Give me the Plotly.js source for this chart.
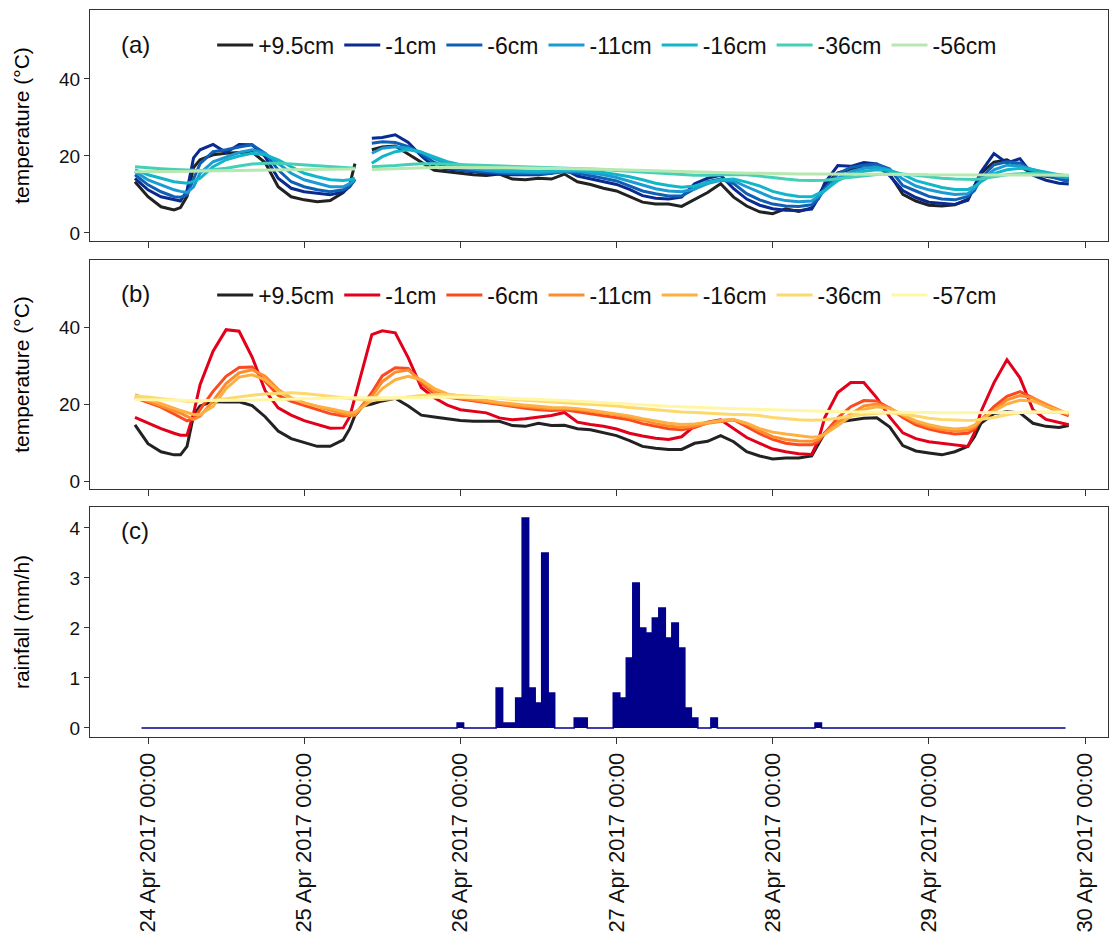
<!DOCTYPE html>
<html>
<head>
<meta charset="utf-8">
<script src="https://cdn.plot.ly/plotly-3.0.1.min.js"></script>
<style>html,body{margin:0;padding:0;background:#fff;}#chart{width:1110px;height:940px;}</style>
</head>
<body>
<div id="chart"></div>
<script>
// Hours since 24 Apr 2017 00:00 (sample times of the temperature records)
const hours = [
 -2,0,2,4,5,6,7,8,10,12,14,16,18,20,22,
 24,26,28,30,31,31.8,33,34.4,36,38,40,42,44,46,
 48,50,52,54,56,58,60,62,64,66,68,70,
 72,74,76,78,80,82,84,86,88,90,92,94,
 96,98,100,102,103,104,106,108,110,112,114,116,118,
 120,122,124,126,127,128,130,132,134,136,138,140,141.5
];

// Panel (a) temperatures (°C)
const a_p95 = [
 13.3,9.4,6.8,6.0,6.6,9.5,17.0,19.0,20.3,20.7,20.9,21.0,18.3,12.0,9.4,
 8.6,8.1,8.4,10.5,12.5,18.0,null,21.6,22.3,22.6,20.5,18.5,16.3,15.9,
 15.5,15.1,14.9,15.3,14.0,13.8,14.2,14.0,15.3,13.3,12.6,11.6,
 10.9,9.5,8.0,7.5,7.5,6.9,8.6,10.5,12.8,9.3,7.0,5.5,
 5.0,6.3,5.6,6.5,9.8,12.3,15.6,16.5,16.9,17.2,15.2,10.0,8.3,
 7.2,7.0,7.3,8.8,12.0,15.5,18.4,19.0,17.2,15.4,14.7,14.2,13.8];
const a_m1 = [
 14.2,11.2,9.4,8.6,8.3,11.0,19.5,21.6,23.0,20.9,23.0,22.9,19.8,14.2,11.6,
 10.7,10.3,9.9,10.7,12.0,14.0,null,24.6,24.8,25.5,23.5,20.0,17.2,16.6,
 16.2,15.8,15.5,15.3,15.1,15.1,15.1,15.5,16.5,14.8,14.0,13.3,
 12.6,11.3,9.7,9.0,8.8,9.3,12.8,14.2,15.0,11.5,8.8,7.2,
 6.3,5.9,5.8,6.2,9.0,13.0,17.5,17.3,18.3,17.9,14.8,11.0,9.2,
 8.0,7.7,7.4,8.5,12.0,15.8,20.6,18.2,19.3,15.0,13.7,12.9,12.7];
const a_m6 = [
 15.1,12.5,10.7,9.4,9.3,9.9,14.0,18.0,21.1,21.6,22.3,22.9,20.7,16.4,13.3,
 12.0,11.2,10.7,11.2,12.2,13.8,null,23.3,23.7,23.5,22.4,20.5,18.3,17.0,
 16.4,16.1,15.8,15.6,15.4,15.3,15.3,15.5,15.9,15.5,14.9,14.2,
 13.5,12.2,10.9,10.2,9.6,9.6,11.5,13.3,14.0,12.8,10.2,8.6,
 7.5,7.0,6.9,7.3,8.8,11.6,15.4,17.0,17.6,17.9,16.6,12.3,10.9,
 9.5,8.8,8.6,9.5,11.0,14.2,17.7,18.5,18.1,16.0,14.9,14.0,13.3];
const a_m11 = [
 15.9,13.8,12.5,11.2,10.8,10.5,12.0,15.5,18.5,19.8,20.9,21.6,20.7,18.1,15.5,
 13.8,12.9,12.0,12.0,12.8,13.8,null,20.7,22.0,22.4,22.0,21.0,19.3,17.9,
 17.0,16.6,16.2,15.9,15.8,15.7,15.7,15.8,16.0,16.0,15.6,15.1,
 14.4,13.4,12.4,11.5,10.9,10.7,11.4,12.8,13.7,13.5,12.0,10.6,
 9.1,8.4,8.1,8.3,9.5,11.0,14.3,15.9,16.8,17.1,16.4,14.0,12.2,
 11.2,10.5,10.0,10.2,11.6,13.5,16.4,17.6,17.4,16.4,15.4,14.6,14.2];
const a_m16 = [
 16.4,15.1,14.2,13.3,13.1,12.9,13.4,14.2,17.2,19.0,20.0,20.7,20.3,19.0,17.2,
 15.5,14.6,13.8,13.6,13.8,14.2,null,18.1,19.8,21.1,21.6,21.0,19.8,18.5,
 17.7,17.2,16.7,16.4,16.2,16.1,16.0,16.1,16.3,16.3,16.0,15.7,
 15.2,14.6,13.8,12.9,12.3,11.9,12.2,13.1,13.8,14.0,13.2,12.2,
 10.8,10.0,9.5,9.4,10.2,11.0,13.6,15.2,16.0,16.4,16.2,15.2,13.6,
 12.6,11.8,11.3,11.3,12.0,13.3,15.4,16.4,16.8,16.4,15.8,15.0,14.6];
const a_m36 = [
 17.2,16.9,16.7,16.5,16.4,16.3,16.3,16.2,16.4,16.8,17.4,17.9,18.1,18.1,17.9,
 17.7,17.4,17.2,17.0,16.9,16.8,null,17.2,17.3,17.5,17.8,18.0,18.0,17.9,
 17.8,17.7,17.5,17.4,17.3,17.2,17.1,17.0,16.9,16.8,16.6,16.5,
 16.2,16.0,15.8,15.6,15.3,15.1,15.0,15.0,15.1,15.2,15.1,14.8,
 14.4,14.0,13.7,13.6,13.6,13.7,14.1,14.5,14.9,15.2,15.4,15.3,15.0,
 14.6,14.2,14.0,13.9,13.9,14.1,14.6,15.1,15.4,15.5,15.3,15.0,14.9];
const a_m56 = [
 15.9,15.9,15.9,16.0,16.0,16.0,16.0,16.1,16.1,16.2,16.2,16.3,16.3,16.4,16.4,
 16.5,16.5,16.5,16.6,16.6,16.6,null,16.5,16.6,16.7,16.8,16.9,17.0,17.0,
 17.0,17.0,17.0,16.9,16.9,16.9,16.8,16.8,16.7,16.7,16.6,16.5,
 16.4,16.3,16.2,16.1,16.0,15.9,15.8,15.7,15.6,15.6,15.5,15.5,
 15.4,15.4,15.3,15.3,15.3,15.3,15.2,15.2,15.2,15.2,15.2,15.2,15.2,
 15.1,15.1,15.1,15.1,15.1,15.1,15.1,15.0,15.0,15.0,15.0,15.0,15.0];

// Panel (b) temperatures (°C)
const b_p95 = [
 14.6,9.7,7.6,6.8,6.8,9.0,17.0,19.5,20.6,20.5,20.6,19.6,16.7,13.0,11.0,
 9.9,9.0,9.0,10.7,13.6,17.0,19.5,20.0,20.8,21.5,19.5,17.1,16.6,16.1,
 15.7,15.5,15.5,15.5,14.4,14.2,15.0,14.4,14.5,13.6,13.3,12.5,
 11.8,10.5,9.0,8.5,8.2,8.2,9.8,10.3,11.8,10.2,7.6,6.5,
 5.7,6.0,6.0,6.5,9.4,12.5,15.3,15.8,16.3,16.4,14.0,9.2,7.8,
 7.3,6.8,7.6,9.0,11.5,15.0,17.5,18.0,17.7,15.0,14.2,13.9,14.4];
const b_m1 = [
 16.5,15.0,13.6,12.4,11.9,11.9,17.5,25.0,33.7,39.3,38.9,32.2,23.5,19.0,17.1,
 15.7,14.6,13.7,13.8,16.7,21.7,29.5,38.0,39.0,38.5,32.0,24.3,21.6,19.7,
 18.5,18.1,17.7,16.4,15.9,16.2,16.6,17.0,17.8,15.3,14.7,14.2,
 13.5,12.4,11.7,11.1,10.8,11.5,14.3,15.3,15.9,13.6,11.3,9.8,
 8.3,7.6,7.1,6.9,10.5,16.5,23.0,25.6,25.6,21.6,16.6,12.5,11.0,
 10.2,9.8,9.3,9.0,12.5,18.0,25.5,31.5,26.8,18.5,16.0,15.1,14.6];
const b_m6 = [
 21.6,20.4,19.2,17.4,16.4,15.6,16.2,18.5,23.3,27.2,29.5,29.6,26.0,22.3,20.7,
 19.6,18.5,17.5,16.9,17.0,17.2,19.8,23.0,27.3,29.4,29.2,25.5,22.6,21.8,
 21.3,20.8,20.3,19.8,19.3,18.9,18.5,18.3,18.5,18.0,17.5,17.0,
 16.4,15.9,14.9,14.2,13.6,13.3,13.9,15.1,15.7,15.9,14.0,12.3,
 10.8,9.8,9.4,9.4,10.2,12.4,16.4,19.3,20.9,20.8,18.9,16.5,14.6,
 13.5,12.7,12.2,12.4,13.5,15.8,19.3,22.0,23.2,21.6,19.5,17.9,16.9];
const b_m11 = [
 22.0,20.8,19.5,18.3,17.6,16.8,16.0,16.8,20.8,25.3,28.1,28.9,27.2,23.8,21.5,
 20.3,19.3,18.3,17.3,17.0,17.1,19.6,22.0,25.8,28.3,28.8,26.0,23.2,22.0,
 21.5,21.0,20.5,20.1,19.7,19.3,19.0,18.8,18.8,18.6,18.1,17.7,
 17.2,16.5,15.8,14.9,14.3,13.9,14.3,15.0,15.5,15.9,14.8,13.0,
 11.5,10.8,10.4,10.3,10.8,12.3,15.3,17.4,19.5,20.0,19.0,17.0,15.2,
 14.1,13.4,13.0,13.2,14.0,15.8,18.4,21.1,22.2,21.6,20.0,18.4,17.3];
const b_m16 = [
 22.4,21.3,20.1,18.9,18.3,17.7,17.3,17.3,19.4,24.0,27.0,27.6,26.3,23.5,21.6,
 20.3,19.4,18.8,18.0,17.7,17.9,19.2,21.0,24.0,26.3,27.2,26.3,24.0,22.6,
 22.0,21.5,20.9,20.4,20.0,19.7,19.4,19.1,19.0,18.8,18.4,17.9,
 17.5,16.9,16.2,15.6,15.0,14.7,14.8,15.2,15.7,16.0,15.0,13.6,
 12.7,12.2,11.8,11.4,11.5,12.2,14.4,16.8,18.6,19.3,18.8,17.3,15.6,
 14.6,13.9,13.5,13.8,14.5,15.9,18.2,20.0,21.0,20.8,19.4,18.2,17.4];
const b_m36 = [
 22.0,21.8,21.4,21.0,20.8,20.7,20.7,20.8,21.0,21.4,21.9,22.3,22.6,22.8,22.9,
 22.7,22.4,22.0,21.6,21.4,21.2,21.1,21.0,21.1,21.4,21.8,22.2,22.4,22.4,
 22.2,22.0,21.7,21.5,21.2,21.0,20.8,20.5,20.3,20.1,19.9,19.7,
 19.5,19.1,18.8,18.4,18.2,17.9,17.8,17.6,17.4,17.3,17.2,17.0,
 16.5,16.2,15.9,15.8,15.8,15.9,16.3,16.9,17.3,17.6,17.7,17.4,16.9,
 16.3,16.0,15.8,15.7,15.8,16.0,16.5,17.2,17.8,17.9,17.9,17.8,17.7];
const b_m57 = [
 21.2,21.1,21.0,21.0,21.0,20.9,20.9,20.9,20.9,20.9,21.0,21.0,21.1,21.2,21.3,
 21.4,21.5,21.5,21.6,21.6,21.6,21.6,21.6,21.6,21.7,21.7,21.7,21.8,21.8,
 21.8,21.8,21.7,21.6,21.5,21.3,21.2,21.0,20.9,20.7,20.5,20.3,
 20.2,20.0,19.8,19.6,19.4,19.3,19.1,19.0,18.9,18.8,18.6,18.5,
 18.4,18.3,18.2,18.1,18.1,18.0,18.0,17.9,17.9,17.9,17.9,17.8,17.8,
 17.8,17.7,17.7,17.7,17.7,17.7,17.7,17.8,17.8,17.9,17.9,17.9,17.9];

// Panel (c) hourly rainfall (mm/h), first value at hour -1 (23 Apr 23:00)
const rainFirstHour = -1;
const rain = [
 0,0,0,0,0,0,0,0,0,0,0,0,0,0,0,0,0,0,0,0,0,0,0,0,          // -1..22
 0,0,0,0,0,0,0,0,0,0,0,0,0,0,0,0,0,0,0,0,0,0,0,0,          // 23..46
 0,0.1,0,0,0,0,0,0.8,0.1,0.1,0.6,4.2,0.8,0.5,3.5,0.7,0,0,0,0.2,0.2,0,0,0, // 47..70
 0,0.7,0.6,1.4,2.9,2.0,1.9,2.2,2.4,1.8,2.1,1.6,0.4,0.2,0,0,0.2,0,0,0,0,0,0,0, // 71..94
 0,0,0,0,0,0,0,0,0.1,0,0,0,0,0,0,0,0,0,0,0,0,0,0,0,        // 95..118
 0,0,0,0,0,0,0,0,0,0,0,0,0,0,0,0,0,0,0,0,0,0,0             // 119..141
];

const depthsA = ['+9.5cm','-1cm','-6cm','-11cm','-16cm','-36cm','-56cm'];
const depthsB = ['+9.5cm','-1cm','-6cm','-11cm','-16cm','-36cm','-57cm'];
const coloursA = ['#222222','#0a2a8f','#0f5fb4','#1b9ad4','#12b6c8','#45cfb6','#b6e8b0'];
const coloursB = ['#222222','#e2001a','#fb4a20','#fd8c2c','#fdb041','#fdd86d','#fff7a6'];
const seriesA = [a_p95,a_m1,a_m6,a_m11,a_m16,a_m36,a_m56];
const seriesB = [b_p95,b_m1,b_m6,b_m11,b_m16,b_m36,b_m57];

const T0 = Date.UTC(2017,3,24,0,0,0);
const toX = h => T0 + h*3600000;
const xs = hours.map(toX);

const traces = [];
seriesA.forEach((ys,i)=>{
  traces.push({type:'scatter',mode:'lines',x:xs,y:ys,name:depthsA[i],
    xaxis:'x2',yaxis:'y2',legend:'legend',connectgaps:false,
    line:{color:coloursA[i],width:3}});
});
seriesB.forEach((ys,i)=>{
  traces.push({type:'scatter',mode:'lines',x:xs,y:ys,name:depthsB[i],
    xaxis:'x3',yaxis:'y3',legend:'legend2',
    line:{color:coloursB[i],width:3}});
});
const rainX = rain.map((v,i)=>toX(rainFirstHour+i));
traces.push({type:'scatter',mode:'lines',x:rainX,y:rain,name:'rainfall',showlegend:false,
  xaxis:'x',yaxis:'y',line:{shape:'hvh',color:'#00008b',width:1.5},fill:'tozeroy',fillcolor:'#00008b'});

const FONT = 'Liberation Sans, Arial, sans-serif';
const xRange = [toX(-8.913), toX(147.53)];
const xBase = {type:'date',range:xRange,tick0:T0,dtick:86400000,ticks:'outside',ticklen:6,
  tickcolor:'#333',tickwidth:1,showline:true,mirror:true,linecolor:'#333',linewidth:1,
  showgrid:false,zeroline:false,fixedrange:true};
const yBase = {ticks:'outside',ticklen:5,tickcolor:'#333',tickwidth:1,showline:true,mirror:true,
  linecolor:'#333',linewidth:1,showgrid:false,zeroline:false,tickfont:{size:19,color:'#111'}};

const layout = {
  width:1110,height:940,
  margin:{l:90,r:2,t:10,b:203},
  paper_bgcolor:'#fff',plot_bgcolor:'#fff',
  font:{family:FONT,size:18,color:'#000'},
  showlegend:true,
  xaxis:Object.assign({},xBase,{domain:[0,1],anchor:'y',tickformat:'%d %b %Y %H:%M',tickangle:-90,
    tickfont:{size:22,color:'#111'}}),
  xaxis2:Object.assign({},xBase,{domain:[0,1],anchor:'y2',showticklabels:false}),
  xaxis3:Object.assign({},xBase,{domain:[0,1],anchor:'y3',showticklabels:false}),
  yaxis:Object.assign({},yBase,{domain:[0,0.3164],range:[-0.18,4.42],tickvals:[0,1,2,3,4],
    title:{text:'rainfall (mm/h)',font:{size:21},standoff:34}}),
  yaxis2:Object.assign({},yBase,{domain:[0.6823,1],range:[-2.08,57.9],tickvals:[0,20,40],
    title:{text:'temperature (°C)',font:{size:21},standoff:23}}),
  yaxis3:Object.assign({},yBase,{domain:[0.3411,0.6561],range:[-2.08,57.4],tickvals:[0,20,40],
    title:{text:'temperature (°C)',font:{size:21},standoff:23}}),
  legend:{orientation:'h',x:0.12,xanchor:'left',y:0.9519,yanchor:'middle',
    font:{size:23,color:'#111'},bgcolor:'rgba(0,0,0,0)',itemwidth:36},
  legend2:{orientation:'h',x:0.12,xanchor:'left',y:0.608,yanchor:'middle',
    font:{size:23,color:'#111'},bgcolor:'rgba(0,0,0,0)',itemwidth:36},
  annotations:[
    {text:'(a)',xref:'paper',yref:'paper',x:0.0285,y:0.9519,xanchor:'left',yanchor:'middle',showarrow:false,font:{size:24,color:'#111'}},
    {text:'(b)',xref:'paper',yref:'paper',x:0.0285,y:0.6107,xanchor:'left',yanchor:'middle',showarrow:false,font:{size:24,color:'#111'}},
    {text:'(c)',xref:'paper',yref:'paper',x:0.0285,y:0.2834,xanchor:'left',yanchor:'middle',showarrow:false,font:{size:24,color:'#111'}}
  ]
};

Plotly.newPlot('chart',traces,layout,{displayModeBar:false,staticPlot:true});
</script>
</body>
</html>
